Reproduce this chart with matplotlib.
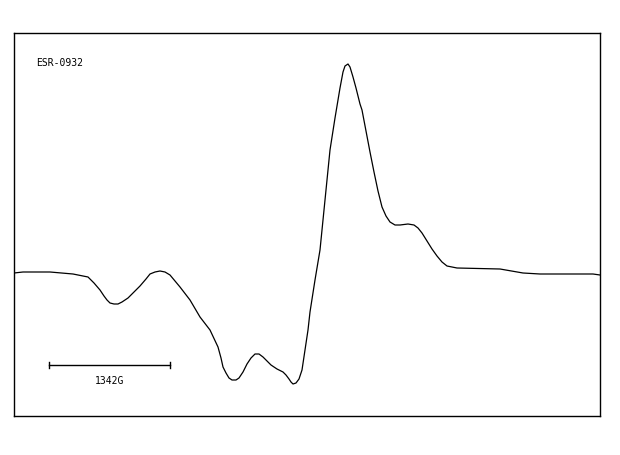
import matplotlib
matplotlib.use("Agg")
import matplotlib.pyplot as plt

# ESR trace (field in plot units, signal above baseline)
field = [0, 9, 36, 59, 74, 80, 86, 90, 93, 96, 100, 104, 108, 114, 119, 126,
         132, 136, 141, 146, 151, 156, 161, 166, 176, 186, 196, 204, 207, 209,
         212, 215, 218, 222, 225, 229, 233, 237, 241, 245, 249, 253, 257, 263,
         269, 272, 275, 277, 279, 282, 285, 288, 291, 294, 296, 301, 306, 311,
         316, 321, 324, 326, 329, 331, 334, 336, 339, 342, 346, 348, 352, 356,
         360, 364, 368, 372, 376, 381, 386, 394, 400, 404, 408, 413, 418, 423,
         428, 433, 443, 486, 509, 526, 579, 586]
signal = [-2, -1, -1, -3, -6, -12, -19, -25, -29, -32, -33, -33, -31, -27, -22,
          -15, -8, -3, -1, 0, -1, -4, -10, -16, -29, -46, -59, -76, -87, -96,
          -102, -107, -109, -109, -107, -101, -93, -87, -83, -83, -86, -90, -94,
          -98, -101, -104, -108, -111, -113, -112, -108, -99, -79, -59, -41, -9,
          21, 71, 121, 153, 171, 183, 199, 205, 207, 204, 194, 183, 167, 161,
          140, 119, 99, 80, 64, 55, 49, 46, 46, 47, 46, 43, 38, 30, 22, 15, 9,
          5, 3, 2, -2, -3, -3, -4]

sample_name = "ESR-0932"
scale_label = "1342G"
scale_start, scale_end, scale_level = 35, 156, -94

fig = plt.figure(figsize=(6.2, 4.55), dpi=100)
ax = fig.add_axes([14 / 620, 39 / 455, 586 / 620, 383 / 455])

ax.plot(field, signal, color="black", linewidth=0.9)

# scale bar
ax.plot([scale_start, scale_end], [scale_level, scale_level], color="black", linewidth=1.0)
for xb in (scale_start, scale_end):
    ax.plot([xb, xb], [scale_level - 3, scale_level + 3], color="black", linewidth=1.0)
ax.text((scale_start + scale_end) / 2, scale_level - 16, scale_label,
        ha="center", va="center", fontsize=7, family="DejaVu Sans Mono")

ax.text(22, 208, sample_name, ha="left", va="center", fontsize=7,
        family="DejaVu Sans Mono")

ax.set_xlim(0, 586)
ax.set_ylim(-145, 238)
ax.set_xticks([])
ax.set_yticks([])
for s in ax.spines.values():
    s.set_linewidth(1.0)

fig.savefig("out.png", dpi=100)
